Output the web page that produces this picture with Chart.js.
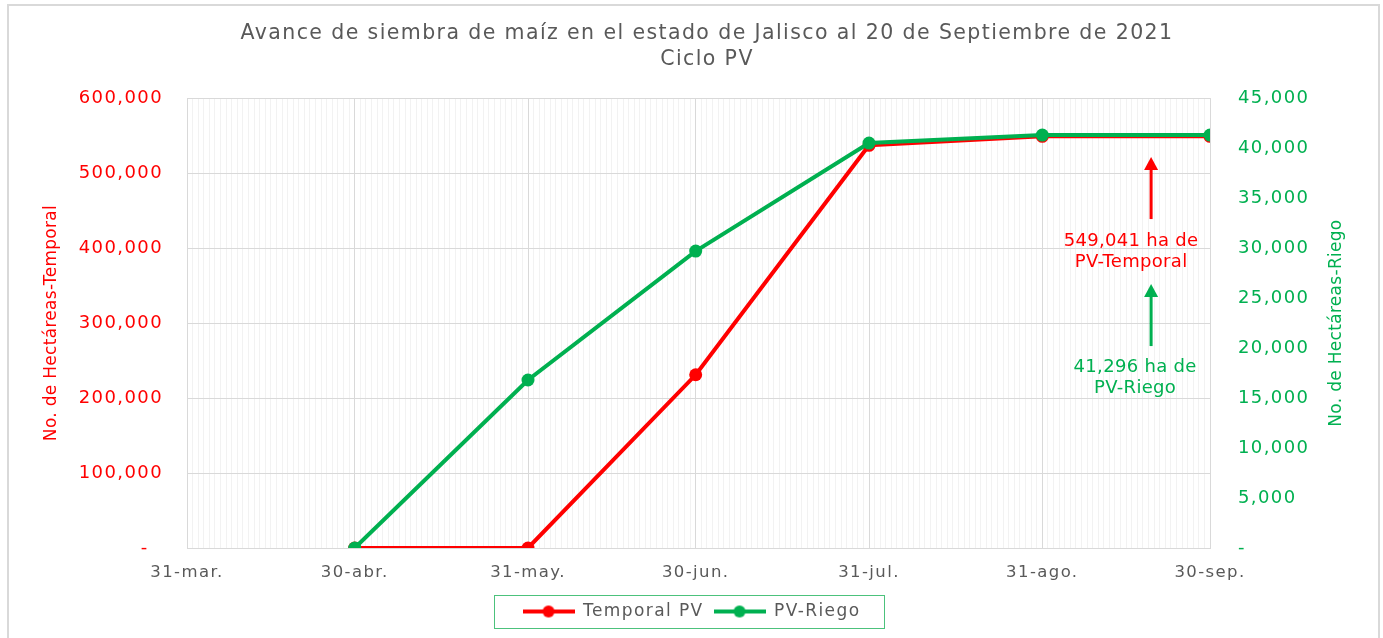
<!DOCTYPE html>
<html>
<head>
<meta charset="utf-8">
<script src="https://cdn.jsdelivr.net/npm/chart.js@4.4.1/dist/chart.umd.min.js"></script>
<style>
  html, body { margin: 0; padding: 0; background: #fff; }
  #wrap { width: 1383px; height: 638px; }
</style>
</head>
<body>
<div id="wrap"><canvas id="grafica" width="1383" height="638"></canvas></div>
<script>
// === Datos ===
const fechasEje = ["2021-03-31", "2021-04-30", "2021-05-31", "2021-06-30", "2021-07-31", "2021-08-31", "2021-09-30"];
const etiquetasEje = ["31-mar.", "30-abr.", "31-may.", "30-jun.", "31-jul.", "31-ago.", "30-sep."];
const fechasSerie = ["2021-04-30", "2021-05-31", "2021-06-30", "2021-07-31", "2021-08-31", "2021-09-30"];
const temporalPV = [0, 0, 231000, 537000, 549041, 549041];
const riegoPV = [0, 16800, 29700, 40500, 41296, 41296];
const fechaCorte = "2021-09-20";
const titulo = ["Avance de siembra de maíz en el estado de Jalisco al 20 de Septiembre de 2021", "Ciclo PV"];

const dia = s => Math.round((Date.parse(s) - Date.parse(fechasEje[0])) / 86400000);
const diasEje = fechasEje.map(dia);
const diaMax = diasEje[diasEje.length - 1];
const etiquetaDia = {};
diasEje.forEach((d, i) => { etiquetaDia[d] = etiquetasEje[i]; });

const ROJO = "#ff0000";
const VERDE = "#00b050";
const GRIS = "#595959";
const FUENTE = "'DejaVu Sans', sans-serif";
const ESPACIADO = "1.4px";
const miles = v => v === 0 ? "-  " : v.toLocaleString("en-US");

// icono de leyenda: linea con punto
function icono(color) {
  const c = document.createElement("canvas");
  c.width = 52; c.height = 14;
  const g = c.getContext("2d");
  g.strokeStyle = color; g.lineWidth = 4;
  g.beginPath(); g.moveTo(0, 7); g.lineTo(52, 7); g.stroke();
  g.fillStyle = color;
  g.beginPath(); g.arc(26, 7, 6, 0, Math.PI * 2); g.fill();
  return c;
}
const iconos = [icono(ROJO), icono(VERDE)];

function textoVertical(ctx, texto, x, y, color) {
  ctx.save();
  ctx.letterSpacing = "0.3px";
  ctx.translate(x, y);
  ctx.rotate(-Math.PI / 2);
  ctx.font = "17px " + FUENTE;
  ctx.fillStyle = color;
  ctx.textAlign = "center";
  ctx.textBaseline = "middle";
  ctx.fillText(texto, 0, 0);
  ctx.restore();
}

// marco exterior, titulo, caja de leyenda, titulos de ejes y anotaciones
const extras = {
  id: "extras",
  beforeUpdate(chart) { chart.ctx.letterSpacing = ESPACIADO; },
  beforeLayout(chart) { chart.ctx.letterSpacing = ESPACIADO; },
  beforeDraw(chart) {
    const ctx = chart.ctx;
    ctx.letterSpacing = ESPACIADO;
    ctx.save();
    ctx.fillStyle = "#fff";
    ctx.fillRect(0, 0, chart.width, chart.height);
    ctx.strokeStyle = "#d9d9d9";
    ctx.lineWidth = 2;
    ctx.beginPath();
    ctx.moveTo(8, chart.height); ctx.lineTo(8, 5); ctx.lineTo(1379, 5); ctx.lineTo(1379, chart.height);
    ctx.stroke();
    ctx.restore();
  },
  afterDraw(chart) {
    const ctx = chart.ctx;
    const area = chart.chartArea;

    // titulo, algo desplazado a la derecha como en el original
    ctx.save();
    ctx.letterSpacing = ESPACIADO;
    ctx.font = "20.5px " + FUENTE;
    ctx.fillStyle = GRIS;
    ctx.textAlign = "center";
    ctx.textBaseline = "middle";
    titulo.forEach((t, i) => ctx.fillText(t, 707, 34 + i * 26));
    ctx.restore();

    const lg = chart.legend;
    if (lg && lg.legendHitBoxes.length) {
      const hb = lg.legendHitBoxes;
      const last = hb[hb.length - 1];
      const cy = hb[0].top + hb[0].height / 2;
      ctx.save();
      ctx.strokeStyle = "#4cc27c";
      ctx.lineWidth = 1;
      ctx.strokeRect(Math.round(hb[0].left) - 28.5, Math.round(cy) - 16.5, Math.round(last.left + last.width - hb[0].left) + 52, 33);
      ctx.restore();
    }
    const cyEje = (area.top + area.bottom) / 2;
    textoVertical(ctx, "No. de Hectáreas-Temporal", 52, cyEje, ROJO);
    textoVertical(ctx, "No. de Hectáreas-Riego", 1337, cyEje, VERDE);

    const xa = chart.scales.x.getPixelForValue(dia(fechaCorte)) - 3;
    const top = area.top;
    const flecha = (color, y1, y2) => {
      ctx.save();
      ctx.strokeStyle = color; ctx.fillStyle = color; ctx.lineWidth = 3;
      ctx.beginPath(); ctx.moveTo(xa, y1); ctx.lineTo(xa, y2 + 10); ctx.stroke();
      ctx.beginPath(); ctx.moveTo(xa, y2); ctx.lineTo(xa - 7, y2 + 13); ctx.lineTo(xa + 7, y2 + 13); ctx.closePath(); ctx.fill();
      ctx.restore();
    };
    flecha(ROJO, top + 121, top + 59);
    flecha(VERDE, top + 248, top + 186);
    ctx.save();
    ctx.letterSpacing = "0.3px";
    ctx.font = "18px " + FUENTE;
    ctx.textAlign = "center";
    ctx.textBaseline = "middle";
    ctx.fillStyle = ROJO;
    ctx.fillText(temporalPV[temporalPV.length - 1].toLocaleString("en-US") + " ha de", xa - 20, top + 143);
    ctx.fillText("PV-Temporal", xa - 20, top + 164);
    ctx.fillStyle = VERDE;
    ctx.fillText(riegoPV[riegoPV.length - 1].toLocaleString("en-US") + " ha de", xa - 16, top + 269);
    ctx.fillText("PV-Riego", xa - 16, top + 290);
    ctx.restore();
  }
};

new Chart(document.getElementById("grafica"), {
  type: "line",
  data: {
    datasets: [
      {
        label: "Temporal PV",
        data: fechasSerie.map((f, i) => ({ x: dia(f), y: temporalPV[i] })),
        yAxisID: "y",
        borderColor: ROJO,
        backgroundColor: ROJO,
        borderWidth: 4,
        pointRadius: 6.5,
        pointBorderWidth: 0,
        order: 1
      },
      {
        label: "PV-Riego",
        data: fechasSerie.map((f, i) => ({ x: dia(f), y: riegoPV[i] })),
        yAxisID: "y1",
        borderColor: VERDE,
        backgroundColor: VERDE,
        borderWidth: 4,
        pointRadius: 6.5,
        pointBorderWidth: 0,
        order: 0
      }
    ]
  },
  options: {
    responsive: false,
    animation: false,
    layout: { padding: { bottom: 8 } },
    scales: {
      x: {
        type: "linear",
        min: 0,
        max: diaMax,
        afterBuildTicks: s => {
          const t = [];
          for (let d = 0; d <= diaMax; d++) t.push({ value: d });
          s.ticks = t;
        },
        afterFit: s => { s.height = 45; },
        ticks: {
          autoSkip: false,
          maxRotation: 0,
          padding: 15,
          color: GRIS,
          font: { family: FUENTE, size: 16.5 },
          callback: v => etiquetaDia[v] || ""
        },
        grid: {
          drawTicks: false,
          color: c => (c.tick && etiquetaDia[c.tick.value] !== undefined) ? "#d9d9d9" : "#f2f2f2"
        },
        border: { color: "#d9d9d9" }
      },
      y: {
        position: "left",
        min: 0,
        max: 600000,
        afterFit: s => { s.width = 187; },
        ticks: {
          stepSize: 100000,
          padding: 24,
          color: ROJO,
          font: { family: FUENTE, size: 18 },
          callback: miles
        },
        grid: { drawTicks: false, color: "#d9d9d9" },
        border: { color: "#d9d9d9" }
      },
      y1: {
        position: "right",
        min: 0,
        max: 45000,
        afterFit: s => { s.width = 173; },
        ticks: {
          stepSize: 5000,
          padding: 28,
          color: VERDE,
          font: { family: FUENTE, size: 18 },
          callback: miles
        },
        grid: { drawOnChartArea: false, drawTicks: false },
        border: { display: false }
      }
    },
    plugins: {
      // el bloque de titulo solo reserva el espacio; el texto se dibuja en "extras"
      title: {
        display: true,
        text: titulo.map(() => ""),
        font: { family: FUENTE, size: 20.5, weight: "normal", lineHeight: 1.27 },
        padding: { top: 23, bottom: 23 }
      },
      legend: {
        position: "bottom",
        labels: {
          usePointStyle: true,
          pointStyleWidth: 52,
          padding: 10,
          color: GRIS,
          font: { family: FUENTE, size: 17 },
          sort: (a, b) => a.datasetIndex - b.datasetIndex,
          generateLabels: chart => Chart.defaults.plugins.legend.labels.generateLabels(chart)
            .map(l => ({ ...l, pointStyle: iconos[l.datasetIndex] }))
        }
      },
      tooltip: { enabled: false }
    }
  },
  plugins: [extras]
});
</script>
</body>
</html>
